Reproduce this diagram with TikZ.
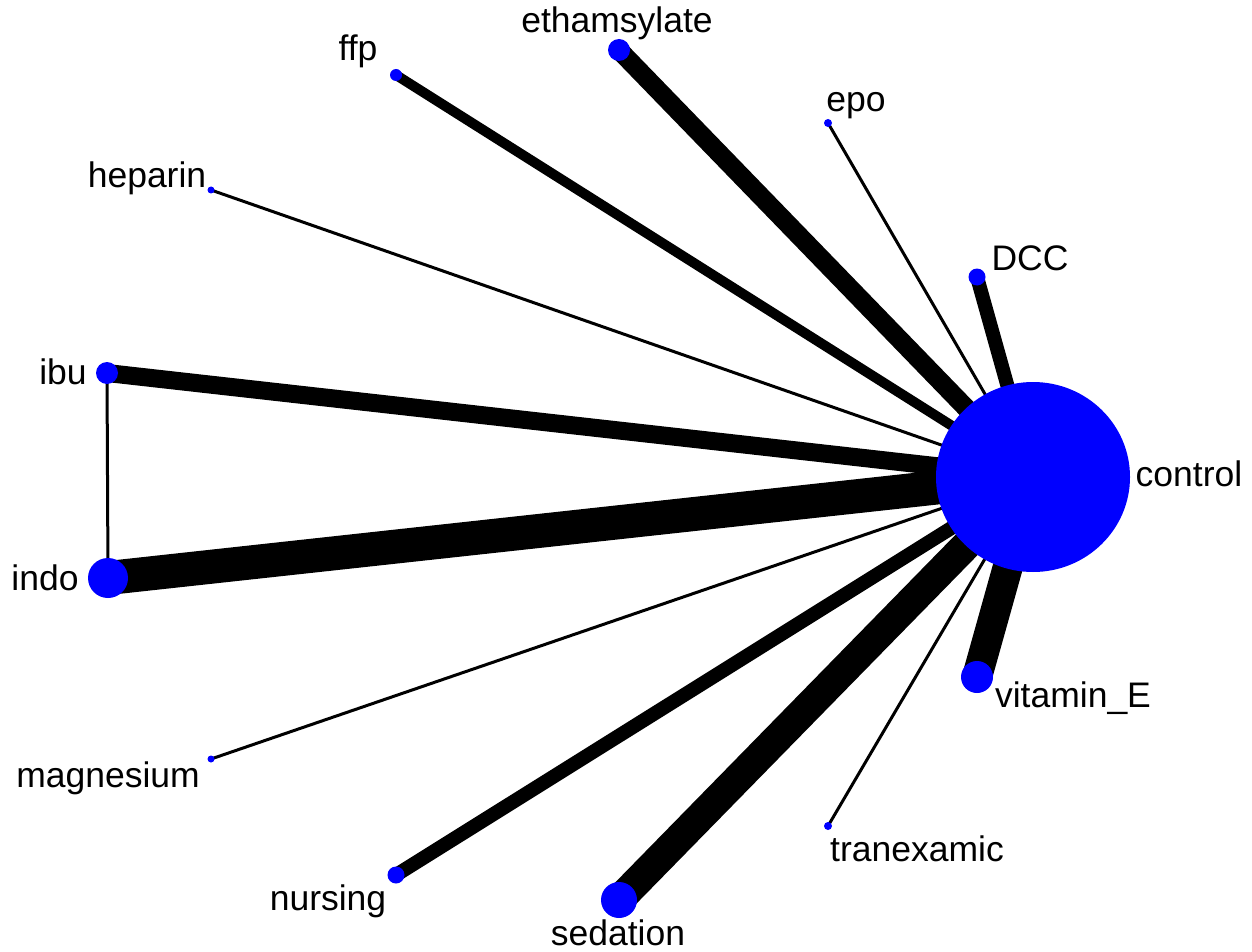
\documentclass[tikz,border=0pt]{standalone}
\usepackage{fontspec}
\setmainfont{Liberation Sans}
\usetikzlibrary{shapes.geometric}
\begin{document}
\begin{tikzpicture}[x=1pt,y=-1pt,
  tnode/.style={circle,fill={rgb,255:red,0;green,0;blue,255},draw=none,inner sep=0pt,minimum size=#1},
  edge/.style={draw=black,line width=#1,line cap=butt},
  lbl/.style={anchor=base,inner sep=0pt,font=\fontsize{35.5}{40}\selectfont}]
\useasboundingbox (0,0) rectangle (1252,952);
\coordinate (control) at (1033,477);
\coordinate (ethamsylate) at (619,50);
\coordinate (ffp) at (396,75);
\coordinate (epo) at (828,123);
\coordinate (heparin) at (211,190);
\coordinate (DCC) at (977,277);
\coordinate (ibu) at (107,373);
\coordinate (indo) at (108,578);
\coordinate (magnesium) at (211,759);
\coordinate (nursing) at (396,875);
\coordinate (sedation) at (619,900);
\coordinate (tranexamic) at (828,826);
\coordinate (vitaminE) at (977,677);
% edges
\draw[edge=34] (control) -- (indo);
\draw[edge=18] (control) -- (ibu);
\draw[edge=3] (control) -- (heparin);
\draw[edge=10] (control) -- (ffp);
\draw[edge=19] (control) -- (ethamsylate);
\draw[edge=3] (control) -- (epo);
\draw[edge=14] (control) -- (DCC);
\draw[edge=30] (control) -- (vitaminE);
\draw[edge=3] (control) -- (tranexamic);
\draw[edge=30] (control) -- (sedation);
\draw[edge=14] (control) -- (nursing);
\draw[edge=3] (control) -- (magnesium);
\draw[edge=3] (ibu) -- (indo);
% nodes
\node[ellipse,fill={rgb,255:red,0;green,0;blue,255},draw=none,inner sep=0pt,minimum width=194pt,minimum height=190pt] (ncontrol) at (control) {};
\node[tnode=22pt] (nethamsylate) at (ethamsylate) {};
\node[tnode=12pt] (nffp) at (ffp) {};
\node[tnode=8pt] (nepo) at (epo) {};
\node[tnode=7pt] (nheparin) at (heparin) {};
\node[tnode=17pt] (nDCC) at (DCC) {};
\node[tnode=22pt] (nibu) at (ibu) {};
\node[tnode=40pt] (nindo) at (indo) {};
\node[tnode=7pt] (nmagnesium) at (magnesium) {};
\node[tnode=17pt] (nnursing) at (nursing) {};
\node[tnode=36pt] (nsedation) at (sedation) {};
\node[tnode=8pt] (ntranexamic) at (tranexamic) {};
\node[tnode=32pt] (nvitaminE) at (vitaminE) {};
% labels
\node[lbl] (l1) at (617,33) {ethamsylate};
\node[lbl] (l2) at (358,61) {ffp};
\node[lbl] (l3) at (856,112) {epo};
\node[lbl] (l4) at (147,187) {heparin};
\node[lbl] (l5) at (1030,270) {DCC};
\node[lbl] (l6) at (63,384) {ibu};
\node[lbl] (l7) at (45,590) {indo};
\node[lbl] (l8) at (1189,486) {control};
\node[lbl] (l9) at (1073,707) {vitamin\_E};
\node[lbl] (l10) at (917,861) {tranexamic};
\node[lbl] (l11) at (108,787) {magnesium};
\node[lbl] (l12) at (328,910) {nursing};
\node[lbl] (l13) at (618,945) {sedation};
\end{tikzpicture}
\end{document}
